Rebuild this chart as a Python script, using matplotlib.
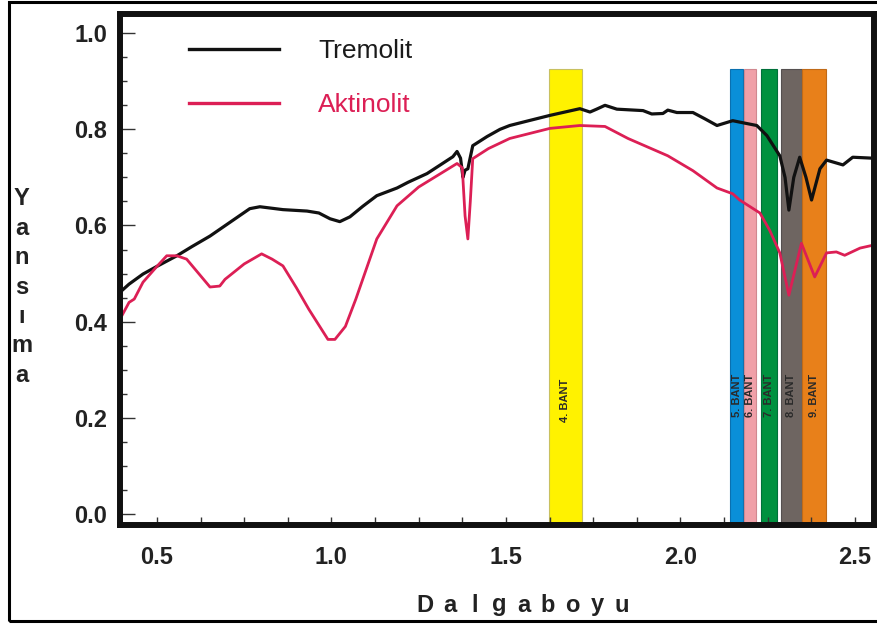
import matplotlib
matplotlib.use('Agg')
import matplotlib.pyplot as plt
from matplotlib.patches import Rectangle
from matplotlib.ticker import MultipleLocator

# Veriler (grafikten okunan yaklaşık değerler)
tremolit_x = [0.394, 0.42, 0.46, 0.50, 0.557, 0.60, 0.652, 0.72, 0.766, 0.795, 0.861,
              0.930, 0.964, 0.996, 1.024, 1.053, 1.09, 1.13, 1.188, 1.22, 1.274,
              1.348, 1.360, 1.370, 1.377, 1.383, 1.391, 1.405, 1.446, 1.483, 1.511,
              1.56, 1.626, 1.712, 1.741, 1.76, 1.784, 1.818, 1.893, 1.918, 1.95,
              1.964, 1.99, 2.036, 2.07, 2.105, 2.15, 2.191, 2.219, 2.248, 2.285,
              2.30, 2.311, 2.325, 2.342, 2.36, 2.376, 2.40, 2.419, 2.466, 2.494, 2.552]
tremolit_y = [0.461, 0.478, 0.499, 0.515, 0.537, 0.556, 0.578, 0.612, 0.635, 0.639, 0.633,
              0.630, 0.626, 0.614, 0.608, 0.618, 0.640, 0.662, 0.678, 0.690, 0.708,
              0.743, 0.754, 0.740, 0.700, 0.715, 0.718, 0.766, 0.785, 0.800, 0.808,
              0.817, 0.829, 0.843, 0.836, 0.842, 0.850, 0.842, 0.839, 0.832, 0.833,
              0.840, 0.835, 0.835, 0.822, 0.808, 0.818, 0.812, 0.808, 0.787, 0.745,
              0.700, 0.632, 0.700, 0.742, 0.700, 0.653, 0.718, 0.736, 0.726, 0.742, 0.740]

aktinolit_x = [0.394, 0.42, 0.435, 0.46, 0.50, 0.528, 0.557, 0.585, 0.652, 0.68, 0.695,
               0.75, 0.80, 0.83, 0.861, 0.90, 0.935, 0.99, 1.01, 1.04, 1.07, 1.13,
               1.188, 1.25, 1.360, 1.375, 1.383, 1.391, 1.398, 1.405, 1.45, 1.511,
               1.626, 1.712, 1.784, 1.85, 1.964, 2.036, 2.105, 2.15, 2.17, 2.228,
               2.256, 2.285, 2.311, 2.347, 2.385, 2.419, 2.447, 2.471, 2.515, 2.552]
aktinolit_y = [0.405, 0.440, 0.447, 0.482, 0.515, 0.537, 0.537, 0.530, 0.472, 0.474, 0.488,
               0.520, 0.541, 0.530, 0.516, 0.470, 0.426, 0.363, 0.363, 0.390, 0.447, 0.572,
               0.641, 0.680, 0.729, 0.720, 0.620, 0.572, 0.650, 0.739, 0.760, 0.781,
               0.802, 0.808, 0.806, 0.781, 0.745, 0.714, 0.678, 0.666, 0.653, 0.626,
               0.590, 0.543, 0.455, 0.563, 0.493, 0.543, 0.545, 0.538, 0.553, 0.559]

# Bantlar
band_labels = ['4. BANT', '5. BANT', '6. BANT', '7. BANT', '8. BANT', '9. BANT']
band_lo = [1.624, 2.142, 2.183, 2.230, 2.288, 2.349]
band_hi = [1.717, 2.180, 2.218, 2.278, 2.349, 2.417]
band_top = 0.925
band_colors = ['#FFF200', '#0A8FD8', '#F0A0A8', '#00913F', '#6E6561', '#E8801A']
band_edges = ['#C8C060', '#0A70B0', '#D08890', '#00703A', '#555050', '#C06A18']
band_text_y = [0.237, 0.247, 0.247, 0.247, 0.247, 0.247]

xmin, xmax = 0.394, 2.555
ymin, ymax = -0.023, 1.040

fig = plt.figure(figsize=(8.77, 6.24), dpi=100)
ax = fig.add_axes([0.1368, 0.1587, 0.9966 - 0.1368, 0.9776 - 0.1587])

# Bant sütunları
for lo, hi, c, ec in zip(band_lo, band_hi, band_colors, band_edges):
    ax.bar((lo + hi) / 2, band_top - ymin, width=hi - lo, bottom=ymin,
           color=c, edgecolor=ec, linewidth=0.8, zorder=1)
for lab, lo, hi, ty in zip(band_labels, band_lo, band_hi, band_text_y):
    ax.text((lo + hi) / 2, ty, lab, rotation=90, ha='center', va='center',
            fontsize=8, fontweight='bold', color='#2a2a2a',
            family=['Liberation Sans', 'DejaVu Sans'], zorder=3)

# Eğriler
l1, = ax.plot(tremolit_x, tremolit_y, color='#111111', lw=2.3, zorder=4)
l2, = ax.plot(aktinolit_x, aktinolit_y, color='#DC1F55', lw=2.0, zorder=4)

leg = ax.legend([l1, l2], ['Tremolit', 'Aktinolit'], loc='upper left',
                bbox_to_anchor=(0.06, 0.997), frameon=False,
                prop={'family': ['Liberation Sans', 'DejaVu Sans'], 'size': 19},
                handlelength=3.4, handletextpad=1.5, labelspacing=1.12)
leg.get_texts()[0].set_color('#1a1a1a')
leg.get_texts()[1].set_color('#DC1F55')
for h in leg.get_lines():
    h.set_linewidth(2.4)

ax.set_xlim(xmin, xmax)
ax.set_ylim(ymin, ymax)

ax.xaxis.set_major_locator(MultipleLocator(0.5))
ax.xaxis.set_minor_locator(MultipleLocator(0.125))
ax.yaxis.set_major_locator(MultipleLocator(0.2))
ax.yaxis.set_minor_locator(MultipleLocator(0.05))

ax.tick_params(axis='y', which='major', direction='in', length=11, width=1.0,
               color='#333333', pad=9)
ax.tick_params(axis='y', which='minor', direction='in', length=5, width=1.0,
               color='#333333')
ax.tick_params(axis='x', which='both', direction='in', length=6, width=1.0,
               color='#333333', pad=15)
ax.set_xticks([0.5, 1.0, 1.5, 2.0, 2.5])
ax.set_xticklabels(['0.5', '1.0', '1.5', '2.0', '2.5'])
ax.set_yticks([0.0, 0.2, 0.4, 0.6, 0.8, 1.0])
ax.set_yticklabels(['0.0', '0.2', '0.4', '0.6', '0.8', '1.0'])
for t in ax.get_xticklabels() + ax.get_yticklabels():
    t.set_fontfamily(['Liberation Sans', 'DejaVu Sans'])
    t.set_fontweight('bold')
    t.set_fontsize(17)
    t.set_color('#222222')

for s in ax.spines.values():
    s.set_linewidth(4.3)
    s.set_color('#111111')
    s.set_zorder(5)

# Eksen başlıkları
fig.text(0.025, 0.54, '\n'.join('Yansıma'), ha='center', va='center',
         fontsize=17, fontweight='bold', linespacing=1.36, color='#222222',
         family=['Liberation Sans', 'DejaVu Sans'])
xlab = 'Dalgaboyu'
for i, ch in enumerate(xlab):
    fig.text((425 + i * 24.6) / 877, 1 - 605 / 624, ch, ha='center', va='center',
             fontsize=17, fontweight='bold', color='#222222',
             family=['Liberation Sans', 'DejaVu Sans'])

# Dış çerçeve
fig.patches.append(Rectangle((9 / 877, 3 / 624), 1.2, 1 - 5 / 624,
                             transform=fig.transFigure, fill=False,
                             edgecolor='black', linewidth=2.2))

fig.savefig('out.png', dpi=100)
